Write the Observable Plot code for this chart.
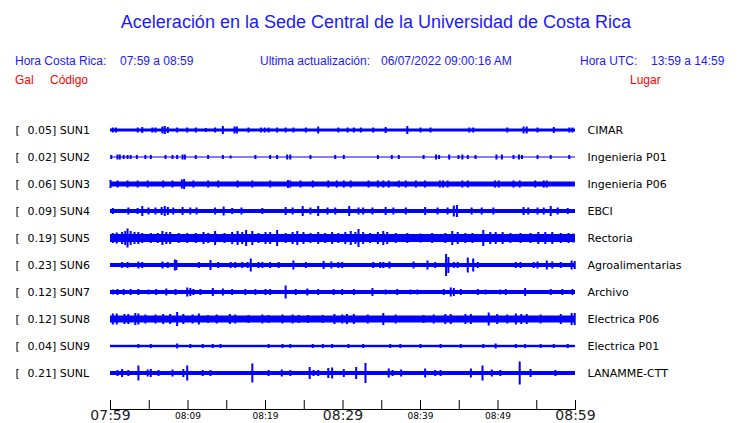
<!DOCTYPE html>
<html><head><meta charset="utf-8">
<script src="https://cdn.jsdelivr.net/npm/d3@7"></script>
<script src="https://cdn.jsdelivr.net/npm/@observablehq/plot@0.6"></script>
<style>
body{margin:0;background:#fff;}
#hdr{position:relative;width:740px;height:100px;font-family:"Liberation Sans",Arial,sans-serif;color:#1a1aff;}
#hdr div{position:absolute;white-space:pre;font-size:12px;line-height:14px;}
#hdr .title{font-size:18px;line-height:20px;left:0;width:752px;text-align:center;top:12px;}
#hdr .red{color:#ff0000;}
#chart svg{display:block;}
</style></head>
<body>
<div id="hdr">
  <div class="title">Aceleración en la Sede Central de la Universidad de Costa Rica</div>
  <div style="left:15px;top:54px">Hora Costa Rica:</div>
  <div style="left:120px;top:54px">07:59 a 08:59</div>
  <div style="left:260px;top:54px">Ultima actualización:</div>
  <div style="left:381px;top:54px">06/07/2022 09:00:16 AM</div>
  <div style="left:580px;top:54px">Hora UTC:</div>
  <div style="left:651px;top:54px">13:59 a 14:59</div>
  <div class="red" style="left:15px;top:73px">Gal</div>
  <div class="red" style="left:50px;top:73px">Código</div>
  <div class="red" style="left:630px;top:73px">Lugar</div>
</div>
<div id="chart"></div>
<script>
// ---- data ----
const stations = ["SUN1","SUN2","SUN3","SUN4","SUN5","SUN6","SUN7","SUN8","SUN9","SUNL"];
const peaks = ["0.05","0.02","0.06","0.09","0.19","0.23","0.12","0.12","0.04","0.21"];
const places = ["CIMAR","Ingenieria P01","Ingenieria P06","EBCI","Rectoria","Agroalimentarias","Archivo","Electrica P06","Electrica P01","LANAMME-CTT"];
// noise floor half-amplitude of each trace (display units)
const noiseFloor = [1.5,0.5,2.5,2,4,2,2,3.5,1.2,2];
// bursts: [minutes after 07:59, half-amplitude]
const evSUN1 = [[0.3,2.5],[0.7,2.5],[3.5,2.5],[4.1,3],[5.4,2.5],[5.8,2.5],[6.7,3.5],[7.0,4],[7.4,3],[8.6,2.5],[9.9,2.5],[11.0,2.5],[12.3,2],[13.5,2.5],[14.5,4],[16.0,3.5],[16.3,3.5],[17.8,2.5],[19.4,2.5],[19.9,2.5],[20.4,2.5],[21.5,2.5],[22.6,2.5],[23.6,2.5],[25.2,2.5],[26.8,3.5],[29.4,2.5],[30.6,2.5],[31.4,2.5],[32.3,2.5],[33.9,2.5],[35.5,3],[38.3,4],[40.0,2.5],[41.3,2.5],[46.3,2.5],[46.8,2.5],[51.2,2.5],[53.3,3.5],[53.7,3.5],[55.1,2.5],[57.2,3],[59.2,2.5],[59.6,2.5]];
const evSUN2 = [[0.1,2],[0.9,2.5],[1.2,2.5],[1.7,2],[2.2,2],[2.6,2],[3.4,2],[4.5,2],[5.2,2],[7.1,2],[8.0,2],[8.6,2],[9.3,2.5],[9.6,2.5],[11.0,2],[12.6,2],[14.5,2],[15.5,1.5],[18.7,2],[20.6,2],[21.5,2],[22.8,2.5],[23.2,2.5],[25.8,2],[29.0,2],[30.1,2],[34.5,2],[36.3,2],[37.2,2],[40.4,2],[42.0,2.5],[42.4,2],[43.7,2.5],[44.9,2],[45.4,2.5],[46.1,2],[47.1,2],[49.8,2.5],[50.5,2.5],[52.0,2],[52.7,2.5],[53.1,2],[55.1,2],[56.8,2],[59.2,2]];
const evSUN3 = [[0.0,4],[0.9,3.5],[2.2,3.5],[3.5,3.5],[4.8,3.5],[6.8,3.5],[8.0,3.5],[9.2,4.5],[9.5,5],[10.7,3.5],[12.6,3.5],[13.9,3.5],[16.4,3.5],[18.3,3.5],[20.6,3.5],[22.9,4],[23.2,3.5],[24.5,3.5],[26.1,3.5],[28.1,3.5],[29.2,3.5],[30.1,3.5],[31.0,3.5],[33.3,3.5],[34.5,3.5],[35.2,3.5],[35.9,3.5],[37.2,3.5],[38.1,3.5],[39.4,3.5],[40.6,3.5],[42.5,3.5],[42.9,3.5],[43.5,3.5],[45.4,3.5],[46.1,3.5],[49.6,3.5],[50.1,3.5],[52.0,3.5],[52.8,3.5],[54.8,3.5],[55.9,3.5],[56.3,3.5]];
const evSUN4 = [[0.3,3],[2.3,3.5],[3.5,3],[4.1,5],[4.9,3.5],[5.8,3.5],[6.6,4],[7.0,5],[7.4,4],[8.1,3.5],[9.3,4],[10.3,3.5],[11.1,3.5],[13.5,3.5],[14.6,4.5],[15.7,3],[16.9,3.5],[19.6,3],[22.6,4],[23.5,3.5],[24.8,5],[25.8,3.5],[26.8,5],[28.0,3.5],[29.0,3.5],[30.8,5],[32.0,3.5],[32.6,3.5],[33.8,3.5],[35.5,4],[36.5,3.5],[38.1,3.5],[40.6,4],[42.2,3.5],[43.5,3.5],[44.3,5.5],[44.7,6],[46.6,3.5],[47.9,3.5],[49.4,3.5],[53.3,4],[53.9,3.5],[55.1,3.5],[55.9,3.5],[56.8,5],[57.7,3.5],[59.0,3]];
const evSUN5 = [[0.3,5],[0.8,5.5],[1.5,6],[1.9,7],[2.2,9.5],[2.6,7],[3.1,6],[3.6,6],[4.1,5],[5.2,5],[6.1,5],[6.7,7],[7.2,6],[7.7,6],[8.8,5],[9.9,5],[11.0,5],[12.0,6],[12.6,5],[13.5,7],[14.7,5],[15.7,6],[16.4,7],[17.0,6],[17.5,8],[18.3,7],[19.1,5],[20.0,6],[20.6,6],[21.5,8],[22.6,5],[23.5,6],[24.1,7],[24.9,6],[25.8,5],[26.8,6],[27.7,5],[28.6,6],[29.4,5],[30.3,6],[31.0,7],[31.6,6],[32.0,9],[32.6,6],[33.5,5],[34.5,6],[35.2,7],[35.7,6],[36.8,5],[38.3,5],[40.0,4.5],[41.5,5],[43.2,5],[44.1,7],[44.8,6],[45.8,5],[46.7,5],[48.1,8],[49.0,6],[49.7,6],[50.6,6],[51.6,5],[52.9,5],[54.2,5],[55.2,6],[56.1,6],[57.0,6],[58.1,5],[59.1,5],[59.7,4.5]];
const evSUN6 = [[1.5,3],[2.2,3],[3.6,3.5],[4.1,3],[6.7,3.5],[7.4,3],[8.3,5.5],[8.5,5],[11.4,3],[12.9,5],[13.9,3],[15.5,3],[16.1,3],[17.0,3],[17.7,3],[18.1,6.5],[19.1,3],[19.6,3],[20.6,3],[21.7,3],[23.6,4.5],[25.2,3],[27.5,4],[28.5,3.5],[29.4,3],[29.9,3],[33.9,3],[34.8,3],[35.2,3],[36.0,3.5],[39.1,3.5],[40.9,4.5],[41.9,3],[43.3,11],[43.6,8],[44.3,3],[44.8,3],[46.1,7.5],[46.8,6.5],[47.4,3],[52.3,3],[52.9,3],[54.6,3],[55.1,3.5],[56.3,4.5],[57.0,3.5],[58.1,3],[59.5,4.5],[59.9,4]];
const evSUN7 = [[0.3,2.5],[0.9,3],[1.7,3],[2.6,3],[3.6,3],[4.9,2.5],[5.9,3],[7.2,3.5],[8.4,3],[9.9,4.5],[10.3,4],[10.7,3],[11.6,3],[13.2,4],[14.5,3.5],[15.7,3],[17.4,3],[18.7,3],[20.0,3],[20.6,3],[22.6,6.5],[23.9,3],[25.4,3.5],[26.8,3],[28.8,3],[29.9,3],[31.4,3],[33.8,4],[35.5,2.5],[37.0,3],[38.7,2.5],[39.6,2.5],[43.0,3],[43.9,4.5],[44.3,4],[45.2,3],[47.4,3],[48.4,2.5],[50.3,2.5],[51.0,3],[53.5,4],[56.8,3],[58.3,3],[59.6,3]];
const evSUN8 = [[0.3,5.5],[0.8,5.5],[1.8,5],[2.3,5],[3.2,6],[3.6,5.5],[4.5,4.5],[5.8,4.5],[6.8,5],[7.7,5],[8.6,7],[9.4,5],[10.6,4.5],[11.4,5.5],[12.6,4],[13.7,4.5],[15.4,5],[16.1,4.5],[17.8,4],[19.6,4.5],[20.4,4],[22.2,4.5],[23.5,4.5],[24.3,4],[25.5,4],[27.4,4],[28.9,5],[29.9,4.5],[30.5,5],[31.4,5],[33.2,4.5],[35.2,6],[36.8,4.5],[40.4,4],[41.7,4.5],[43.2,5],[43.9,5],[45.8,5],[46.5,5],[48.8,6.5],[49.9,5],[51.2,4.5],[52.3,5.5],[53.0,5],[53.7,5],[55.5,4.5],[58.1,5],[59.5,6],[59.9,6]];
const evSUN9 = [[3.6,2],[5.2,2],[8.6,2.5],[10.3,2],[11.9,2],[13.2,2],[14.2,2],[20.4,2],[22.2,2],[23.2,2],[26.1,2],[27.4,2],[28.6,2],[30.7,2],[32.6,2],[36.1,2],[37.4,2],[40.0,2],[42.6,2],[45.2,2],[48.1,2],[49.7,2.5],[52.3,2],[53.5,2],[55.5,2],[57.2,2],[59.0,2]];
const evSUNL = [[0.9,3],[1.5,4],[2.3,3],[3.6,7.5],[4.8,3.5],[5.2,4],[6.2,3],[8.0,3.5],[9.4,4],[9.9,7.5],[11.9,3],[12.9,3],[18.3,9.5],[20.4,3],[22.1,3.5],[23.2,3],[25.7,6],[26.2,3],[26.8,3],[28.1,5],[28.6,5.5],[30.1,4],[31.7,6],[32.9,10],[35.9,4.5],[36.4,3],[37.5,3.5],[40.6,4.5],[41.9,3],[42.6,3],[46.5,4.5],[48.0,7.5],[49.2,3.5],[50.3,3],[52.8,11.5],[54.2,4],[57.4,3]];
const bursts = [evSUN1,evSUN2,evSUN3,evSUN4,evSUN5,evSUN6,evSUN7,evSUN8,evSUN9,evSUNL];
// time axis
const startTime = "2022-06-07T07:59:00Z";
const tickMinutes = [0,5,10,15,20,25,30,35,40,45,50,55,60];
const bigLabelMinutes = [0,30,60];
const smallLabelMinutes = [10,20,40,50];

// ---- build ----
const BLUE = "#0000ff";
const SP = 27;
const t0 = new Date(startTime);
const T = m => new Date(+t0 + m * 60000);
const rows = stations.map((s, i) => ({s, peak: peaks[i], place: places[i], off: i * SP, base: noiseFloor[i]}));
const events = bursts.flatMap((ev, i) => ev.map(([m, a]) => ({t: T(m), off: i * SP, a})));
const fmt = d3.utcFormat("%H:%M");

const chart = Plot.plot({
  width: 740, height: 323,
  marginLeft: 110, marginRight: 165, marginTop: 0, marginBottom: 14,
  x: {type: "utc", domain: [T(0), T(60)], axis: null},
  y: {domain: [-30, 279], range: [0, 309], axis: null},
  style: {fontFamily: "DejaVu Sans", background: "white", overflow: "visible", color: "black"},
  marks: [
    Plot.rect(rows, {x1: () => T(0), x2: () => T(60), y1: d => d.off - d.base, y2: d => d.off + d.base, fill: BLUE}),
    Plot.ruleX(events, {x: "t", y1: d => d.off - d.a, y2: d => d.off + d.a, stroke: BLUE, strokeWidth: 2}),
    Plot.text(rows, {y: "off", frameAnchor: "left", dx: -95, textAnchor: "start", text: () => "[", fontSize: 11, fill: "black"}),
    Plot.text(rows, {y: "off", frameAnchor: "left", dx: -83, textAnchor: "start", text: d => `${d.peak}] ${d.s}`, fontSize: 11, fill: "black"}),
    Plot.text(rows, {y: "off", frameAnchor: "right", dx: 12, textAnchor: "start", text: "place", fontSize: 11, fill: "black"}),
    Plot.frame({anchor: "bottom", stroke: "black"}),
    Plot.tickX(tickMinutes.map(T), {x: d => d, insetTop: 300, stroke: "black"}),
    Plot.axisX(bigLabelMinutes.map(T), {tickSize: 0, tickPadding: 1, fontSize: 14, tickFormat: fmt, fill: "#222", label: null}),
    Plot.axisX(smallLabelMinutes.map(T), {tickSize: 0, tickPadding: 3, fontSize: 9, tickFormat: fmt, fill: "black", label: null})
  ]
});
document.getElementById("chart").appendChild(chart);
</script>
</body></html>
